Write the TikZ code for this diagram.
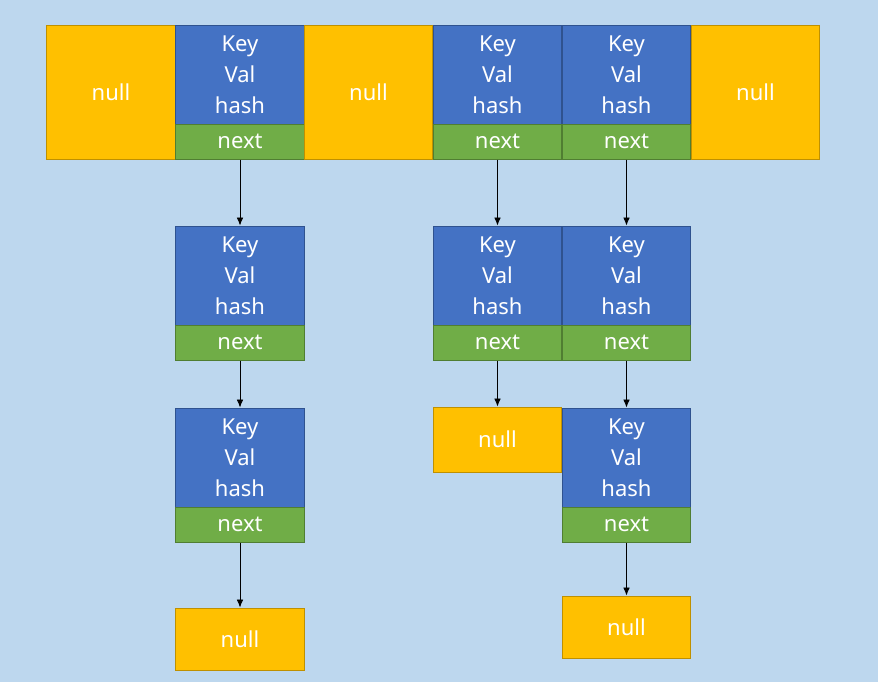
\documentclass[tikz,border=0pt]{standalone}
\usepackage{fontspec}
\setmainfont{Noto Sans}
\usetikzlibrary{arrows.meta}

\definecolor{bgblue}{RGB}{189,215,238}
\definecolor{nullfill}{RGB}{255,192,0}
\definecolor{nullline}{RGB}{191,144,0}
\definecolor{kvfill}{RGB}{68,114,196}
\definecolor{kvline}{RGB}{47,82,143}
\definecolor{nextfill}{RGB}{112,173,71}
\definecolor{nextline}{RGB}{80,126,50}

\tikzset{every picture/.style={line width=0.75pt}}
\tikzset{
  cell/.style={inner sep=0pt, text=white, align=center, minimum width=96.5pt,
    font=\fontsize{16.5}{23.25}\selectfont},
  nullbox/.style={cell, fill=nullfill, draw=nullline},
  kvbox/.style={cell, fill=kvfill, draw=kvline, minimum height=74.25pt},
  nextbox/.style={cell, fill=nextfill, draw=nextline, minimum height=26.25pt},
  link/.style={-{Latex[length=6pt,width=5pt]}, line width=0.6pt, black}
}

\begin{document}
\begin{tikzpicture}[x=0.75pt,y=0.75pt,yscale=-1,xscale=1]
% background
\fill[bgblue] (0,0) rectangle (878,682);
\useasboundingbox (0,0) rectangle (878,682);

% Table row
\node[nullbox, minimum width=97.5pt, minimum height=100.5pt] (null1) at (111,92) {null};
\node[kvbox] (kv1) at (240,74.5) {Key\\Val\\hash};
\node[nextbox] (nx1) at (240,141.5) {next};
\node[nullbox, minimum height=100.5pt] (null2) at (368.5,92) {null};
\node[kvbox] (kv2) at (497.5,74.5) {Key\\Val\\hash};
\node[nextbox] (nx2) at (497.5,141.5) {next};
\node[kvbox] (kv3) at (626.5,74.5) {Key\\Val\\hash};
\node[nextbox] (nx3) at (626.5,141.5) {next};
\node[nullbox, minimum height=100.5pt] (null3) at (755.5,92) {null};

% Second row
\node[kvbox] (kv4) at (240,275.5) {Key\\Val\\hash};
\node[nextbox] (nx4) at (240,342.5) {next};
\node[kvbox] (kv5) at (497.5,275.5) {Key\\Val\\hash};
\node[nextbox] (nx5) at (497.5,342.5) {next};
\node[kvbox] (kv6) at (626.5,275.5) {Key\\Val\\hash};
\node[nextbox] (nx6) at (626.5,342.5) {next};

% Third row
\node[kvbox] (kv7) at (240,457.5) {Key\\Val\\hash};
\node[nextbox] (nx7) at (240,524.5) {next};
\node[nullbox, minimum height=48.75pt] (null4) at (497.5,439.5) {null};
\node[kvbox] (kv8) at (626.5,457.5) {Key\\Val\\hash};
\node[nextbox] (nx8) at (626.5,524.5) {next};

% Last row
\node[nullbox, minimum height=46.5pt] (null5) at (240,639) {null};
\node[nullbox, minimum height=46.5pt] (null6) at (626.5,627) {null};

% Links
\draw[link] (nx1) -- (kv4);
\draw[link] (nx4) -- (kv7);
\draw[link] (nx7) -- (null5);
\draw[link] (nx2) -- (kv5);
\draw[link] (nx5) -- (null4);
\draw[link] (nx3) -- (kv6);
\draw[link] (nx6) -- (kv8);
\draw[link] (nx8) -- (null6);
\end{tikzpicture}
\end{document}
